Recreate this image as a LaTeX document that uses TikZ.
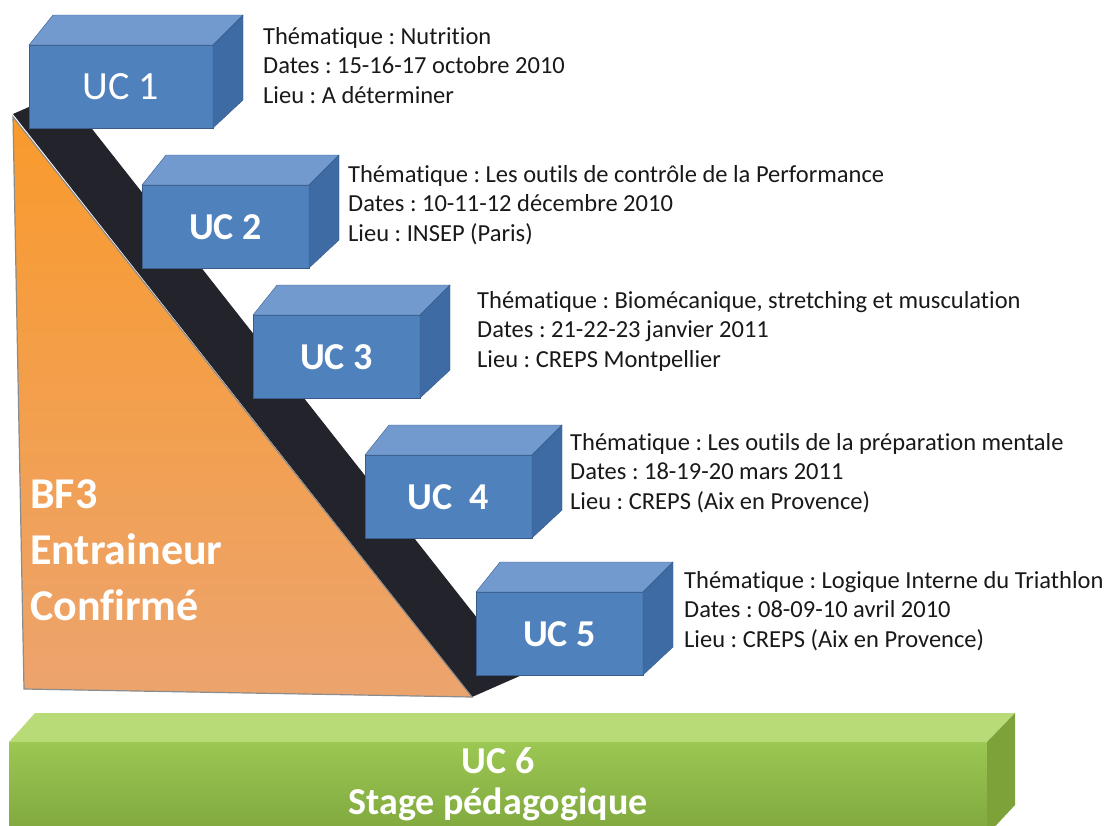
\documentclass[tikz,border=0pt]{standalone}
\usepackage{fontspec}
\setmainfont{Carlito}[Ligatures=NoCommon]
\usepackage{xcolor}
\usetikzlibrary{shapes,arrows,positioning}
\frenchspacing

\definecolor{ucfront}{HTML}{4F81BD}
\definecolor{uctop}{HTML}{729ACF}
\definecolor{ucside}{HTML}{3E6BA3}
\definecolor{ucedge}{HTML}{385D8A}
\definecolor{bandcol}{HTML}{22232B}
\definecolor{orangetop}{HTML}{F99A2C}
\definecolor{orangebot}{HTML}{ECA46E}
\definecolor{greentop}{HTML}{B8DB77}
\definecolor{greenfront}{HTML}{9BC752}
\definecolor{greenbot}{HTML}{7FA73E}
\definecolor{greenside}{HTML}{7EA23A}

\tikzset{
  uclabel/.style={text=white,font=\fontsize{38}{40}\selectfont\bfseries},
  info/.style={anchor=north west,align=left,inner sep=0pt,text=black!90,
    font=\fontsize{24.5}{29.5}\selectfont},
  bigtext/.style={align=left,inner sep=0pt,text=white,
    font=\fontsize{44}{56}\selectfont\bfseries}
}

% box: x, y (front top left), width, name, label
\newcommand{\ucbox}[5]{%
  \fill[ucfront,draw=ucedge] (#1,#2) rectangle (#1+#3,#2+83);
  \fill[uctop,draw=ucedge] (#1,#2) -- (#1+24,#2-30) -- (#1+#3+30,#2-30) -- (#1+#3,#2) -- cycle;
  \fill[ucside,draw=ucedge] (#1+#3,#2) -- (#1+#3+30,#2-30) -- (#1+#3+30,#2+55) -- (#1+#3,#2+83) -- cycle;
  \node[uclabel] (#4) at (#1+#3/2,#2+42) {#5};
}

\begin{document}
\begin{tikzpicture}[x=1pt,y=-1pt]
\clip (0,0) rectangle (1108,825);
\fill[white] (0,0) rectangle (1108,825);

% dark side of the triangle
\fill[bandcol] (13,114) -- (63,92) -- (522,675) -- (472,697) -- cycle;

% triangle
\shade[top color=orangetop,bottom color=orangebot,draw=black!45,line width=1.2pt]
  (13,117) -- (472,697) -- (24,689) -- cycle;
\node[bigtext,anchor=north west] (bf) at (30,479) {BF3\\Entraineur\\Confirmé};

% blocks
\ucbox{29}{45}{184}{uc1}{\mdseries\fontsize{40}{42}\selectfont UC 1}
\ucbox{142}{185}{167}{uc2}{UC 2}
\ucbox{253}{315}{167}{uc3}{UC 3}
\ucbox{365}{455}{167}{uc4}{UC~~4}
\ucbox{476}{592}{167}{uc5}{UC 5}

\node[info] (t1) at (263,27) {Thématique : Nutrition\\Dates : 15-16-17 octobre 2010\\Lieu : A déterminer};
\node[info] (t2) at (348,165) {Thématique : Les outils de contrôle de la Performance\\Dates : 10-11-12 décembre 2010\\Lieu : INSEP (Paris)};
\node[info] (t3) at (477,291) {Thématique : Biomécanique, stretching et musculation\\Dates : 21-22-23 janvier 2011\\Lieu : CREPS Montpellier};
\node[info] (t4) at (570,433) {Thématique : Les outils de la préparation mentale\\Dates : 18-19-20 mars 2011\\Lieu : CREPS (Aix en Provence)};
\node[info] (t5) at (684,571) {Thématique : Logique Interne du Triathlon\\Dates : 08-09-10 avril 2010\\Lieu : CREPS (Aix en Provence)};

% stage bar
\shade[top color=greenfront,bottom color=greenbot] (9,742) rectangle (987,835);
\fill[greentop] (9,742) -- (35,713) -- (1015,713) -- (987,742) -- cycle;
\fill[greenside] (987,742) -- (1015,713) -- (1015,805) -- (987,835) -- cycle;
\node[align=center,inner sep=0pt,text=white,font=\fontsize{38}{41}\selectfont\bfseries,
  anchor=north] (uc6) at (498,747) {UC 6\\Stage pédagogique};

\end{tikzpicture}
\end{document}
